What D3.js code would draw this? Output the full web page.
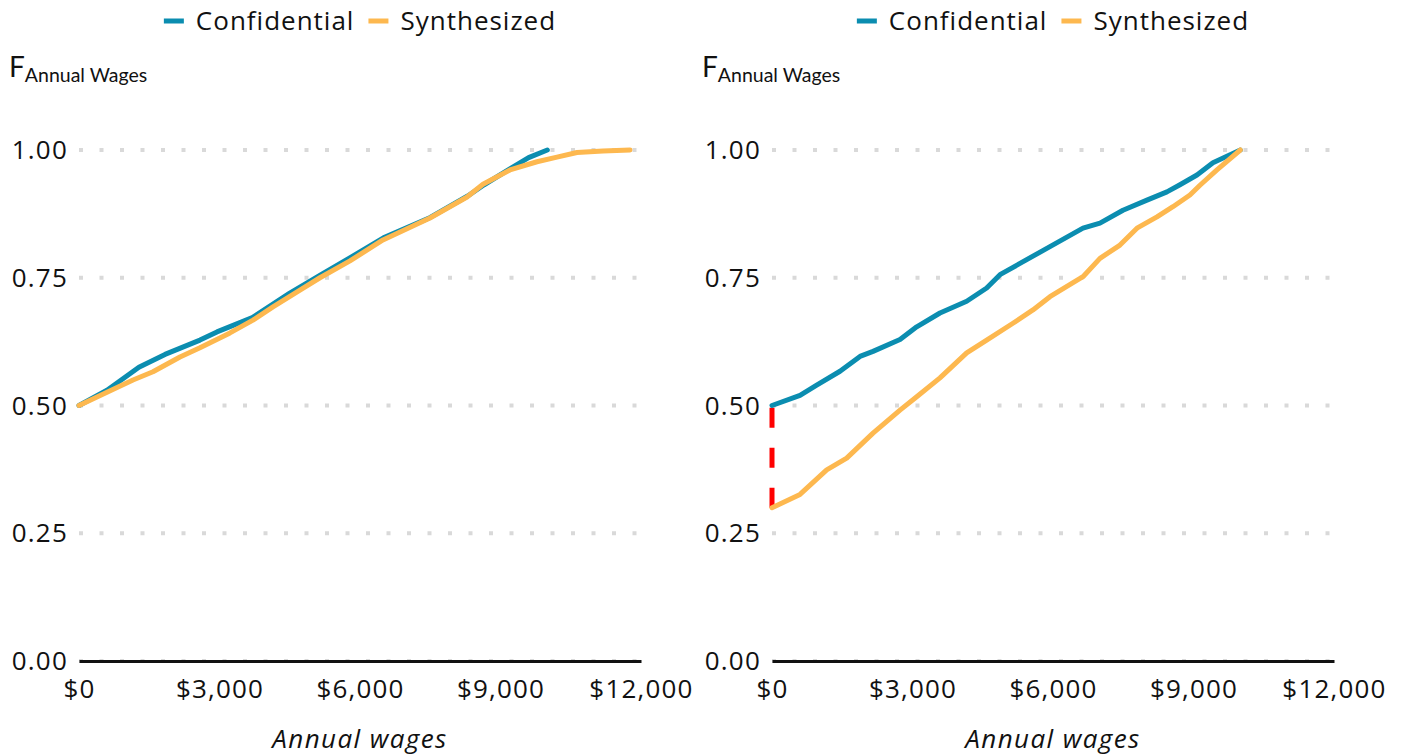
<!DOCTYPE html>
<html lang="en">
<head>
<meta charset="UTF-8">
<title>Annual wages CDF</title>
<script src="https://d3js.org/d3.v7.min.js"></script>
<style>
  body { margin: 0; background: #fff; }
  svg text { font-family: "Open Sans", "Noto Sans", sans-serif; fill: #111; }
  .tick-label { font-size: 26px; letter-spacing: 1.2px; }
  .legend-text { font-size: 26px; letter-spacing: 1px; }
  .axis-title { font-size: 26px; font-style: italic; letter-spacing: 1.4px; }
  .f-label { font-family: Lato, sans-serif; font-size: 28px; }
  .f-sub { font-family: Lato, sans-serif; font-size: 19.5px; }
</style>
</head>
<body>
<div id="chart"></div>
<script>
// series names + colours
const seriesNames = ["Confidential", "Synthesized"];
const seriesColors = ["#0b8db0", "#fdb84f"];

// ticks
const xTicks = [0, 3000, 6000, 9000, 12000];
const yTicks = [0, 0.25, 0.5, 0.75, 1];

// left panel: [wage, F]
const leftConfidential = [
  [0, 0.5], [598, 0.53], [1279, 0.575], [1836, 0.6], [2583, 0.628], [2946, 0.644],
  [3700, 0.672], [4500, 0.72], [5150, 0.755], [5800, 0.79], [6500, 0.828],
  [7500, 0.868], [8300, 0.91], [8650, 0.932], [9200, 0.963], [9600, 0.985], [10000, 1.0]
];
const leftSynthesized = [
  [0, 0.5], [598, 0.526], [1153, 0.55], [1580, 0.566], [2156, 0.595], [2583, 0.613],
  [3224, 0.642], [3715, 0.667], [4142, 0.693], [4718, 0.726], [5145, 0.75], [5786, 0.783],
  [6490, 0.824], [7494, 0.867], [8285, 0.908], [8626, 0.933], [9203, 0.961], [9779, 0.977],
  [10206, 0.986], [10633, 0.995], [11188, 0.998], [11765, 1.0]
];

// right panel
const rightConfidential = [
  [0, 0.5], [598, 0.52], [954, 0.54], [1452, 0.567], [1879, 0.596], [2157, 0.606],
  [2733, 0.629], [3090, 0.654], [3587, 0.681], [4157, 0.704], [4584, 0.73], [4868, 0.756],
  [5295, 0.778], [5935, 0.811], [6640, 0.847], [7003, 0.857], [7494, 0.882], [8006, 0.902],
  [8433, 0.918], [8711, 0.932], [9074, 0.951], [9415, 0.975], [10000, 1.0]
];
const rightSynthesized = [
  [0, 0.3], [598, 0.326], [1168, 0.374], [1595, 0.397], [2157, 0.446], [2733, 0.491],
  [3090, 0.517], [3587, 0.554], [4157, 0.603], [4584, 0.628], [5145, 0.661], [5572, 0.687],
  [5935, 0.713], [6640, 0.752], [7003, 0.788], [7430, 0.814], [7793, 0.847], [8220, 0.869],
  [8561, 0.889], [8924, 0.912], [9138, 0.931], [9501, 0.961], [10000, 1.0]
];

// gap marker on the right panel (wage 0, F from 0.30 to 0.50)
const gapLine = [[0, 0.3], [0, 0.5]];

const W = 1403, H = 755;
const svg = d3.select("#chart").append("svg")
  .attr("width", W).attr("height", H);

function drawPanel(x0, conf, synth, gap) {
  const x = d3.scaleLinear().domain([0, 12000]).range([x0, x0 + 562]);
  const y = d3.scaleLinear().domain([0, 1]).range([661, 150]);
  const g = svg.append("g");

  // dotted gridlines
  g.append("g").selectAll("line")
    .data(yTicks)
    .enter().append("line")
    .attr("x1", x(0)).attr("x2", x(12000))
    .attr("y1", d => y(d)).attr("y2", d => y(d))
    .attr("stroke", "#d9d9d9")
    .attr("stroke-width", 4)
    .attr("stroke-dasharray", "4,16.5");

  // y tick labels
  g.append("g").selectAll("text")
    .data(yTicks)
    .enter().append("text")
    .attr("class", "tick-label")
    .attr("x", x(0) - 11)
    .attr("y", d => y(d))
    .attr("dy", "0.35em")
    .attr("text-anchor", "end")
    .text(d3.format(".2f"));

  // x axis baseline + labels
  const xAxis = g.append("g")
    .attr("transform", `translate(0,${y(0)})`)
    .call(d3.axisBottom(x).tickValues(xTicks).tickSize(0).tickPadding(19)
      .tickFormat(d => "$" + d3.format(",")(d)));
  xAxis.select(".domain").attr("stroke", "#111").attr("stroke-width", 3);
  xAxis.selectAll("text").attr("class", "tick-label").attr("font-family", null).attr("font-size", null);

  g.append("text")
    .attr("class", "axis-title")
    .attr("x", x(6000))
    .attr("y", 748)
    .attr("text-anchor", "middle")
    .text("Annual wages");

  // F label with subscript
  const f = g.append("text").attr("x", x0 - 70).attr("y", 77);
  f.append("tspan").attr("class", "f-label").text("F");
  f.append("tspan").attr("class", "f-sub").attr("dy", 5).text("Annual Wages");

  const line = d3.line().x(d => x(d[0])).y(d => y(d[1]));

  if (gap) {
    g.append("path")
      .attr("d", line(gap))
      .attr("fill", "none")
      .attr("stroke", "#ff0000")
      .attr("stroke-width", 5)
      .attr("stroke-dasharray", "20,20");
  }

  [conf, synth].forEach((data, i) => {
    g.append("path")
      .datum(data)
      .attr("d", line)
      .attr("fill", "none")
      .attr("stroke", seriesColors[i])
      .attr("stroke-width", 5)
      .attr("stroke-linejoin", "round")
      .attr("stroke-linecap", "round");
  });

  // legend, centred over panel
  const leg = g.append("g");
  let cx = 0;
  seriesNames.forEach((name, i) => {
    leg.append("line")
      .attr("x1", cx).attr("x2", cx + 20)
      .attr("y1", 21).attr("y2", 21)
      .attr("stroke", seriesColors[i]).attr("stroke-width", 5);
    const t = leg.append("text")
      .attr("class", "legend-text")
      .attr("x", cx + 32).attr("y", 30)
      .text(name);
    cx += 32 + t.node().getComputedTextLength() + 14;
  });
  const legW = cx - 14;
  leg.attr("transform", `translate(${(x(0) + x(12000)) / 2 - legW / 2},0)`);
}

drawPanel(79, leftConfidential, leftSynthesized, null);
drawPanel(772, rightConfidential, rightSynthesized, gapLine);
</script>
</body>
</html>
